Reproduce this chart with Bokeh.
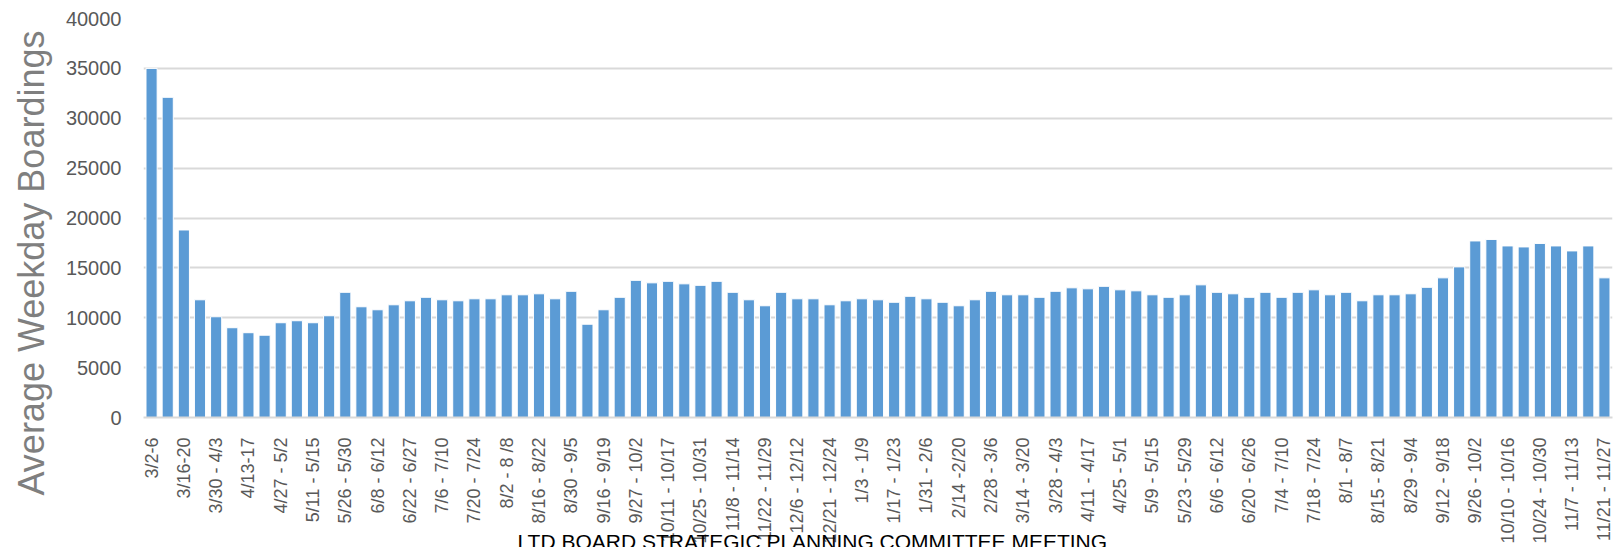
import math
from bokeh.plotting import figure
from bokeh.models import Range1d, FixedTicker, Title, ColumnDataSource
from bokeh.embed import file_html
from bokeh.resources import INLINE

# Average weekday boardings, one value per week (91 weeks)
boardings = [
    35000, 32100, 18800, 11800, 10100, 9000, 8500, 8250, 9500, 9700,
    9500, 10200, 12550, 11100, 10800, 11300, 11700, 12050, 11800, 11700,
    11900, 11900, 12300, 12300, 12400, 11900, 12650, 9350, 10800, 12050,
    13750, 13500, 13650, 13400, 13250, 13650, 12550, 11800, 11200, 12550,
    11900, 11900, 11300, 11700, 11900, 11800, 11550, 12150, 11900, 11550,
    11200, 11800, 12650, 12300, 12300, 12050, 12650, 13000, 12900, 13150,
    12800, 12700, 12300, 12050, 12300, 13300, 12550, 12400, 12050, 12550,
    12050, 12550, 12800, 12300, 12550, 11700, 12300, 12300, 12400, 13050,
    14000, 15100, 17700, 17850, 17200, 17100, 17450, 17200, 16700, 17200,
    14000,
]

# Category labels shown on the axis (every other week)
tick_labels = [
    "3/2-6", "3/16-20", "3/30 - 4/3", "4/13-17", "4/27 - 5/2", "5/11 - 5/15",
    "5/26 - 5/30", "6/8 - 6/12", "6/22 - 6/27", "7/6 - 7/10", "7/20 - 7/24",
    "8/2 - 8 /8", "8/16 - 8/22", "8/30 - 9/5", "9/16 - 9/19", "9/27 - 10/2",
    "10/11 - 10/17", "10/25 - 10/31", "11/8 - 11/14", "11/22 - 11/29",
    "12/6 - 12/12", "12/21 - 12/24", "1/3 - 1/9", "1/17 - 1/23", "1/31 - 2/6",
    "2/14 -2/20", "2/28 - 3/6", "3/14 - 3/20", "3/28 - 4/3", "4/11 - 4/17",
    "4/25 - 5/1", "5/9 - 5/15", "5/23 - 5/29", "6/6 - 6/12", "6/20 - 6/26",
    "7/4 - 7/10", "7/18 - 7/24", "8/1 - 8/7", "8/15 - 8/21", "8/29 - 9/4",
    "9/12 - 9/18", "9/26 - 10/2", "10/10 - 10/16", "10/24 - 10/30",
    "11/7 - 11/13", "11/21 - 11/27",
]

y_ticks = [0, 5000, 10000, 15000, 20000, 25000, 30000, 35000, 40000]
y_title = "Average Weekday Boardings"
footer = "LTD BOARD STRATEGIC PLANNING COMMITTEE MEETING"

weeks = list(range(len(boardings)))
label_positions = weeks[::2]

src = ColumnDataSource(dict(week=weeks, boardings=boardings))

FONT = "Liberation Sans"

p = figure(
    width=1613, height=547,
    output_backend="svg", toolbar_location=None,
    x_range=Range1d(-0.5, len(boardings) - 0.5),
    y_range=Range1d(0, 40000),
    min_border_left=143, min_border_right=1,
    min_border_top=18, min_border_bottom=130,
)
p.outline_line_color = None
p.background_fill_color = "white"
p.border_fill_color = "white"

p.vbar(x="week", top="boardings", bottom=0, width=0.69, source=src,
       fill_color="#5B9BD5", line_color="white", line_width=1)

# x axis
p.xaxis.ticker = FixedTicker(ticks=label_positions)
p.xaxis.major_label_overrides = {pos: lab for pos, lab in zip(label_positions, tick_labels)}
p.xaxis.major_label_orientation = math.pi / 2
p.xaxis.major_label_text_font = FONT
p.xaxis.major_label_text_font_size = "18px"
p.xaxis.major_label_text_color = "#595959"
p.xaxis.major_label_standoff = 14
p.xaxis.major_tick_line_color = None
p.xaxis.minor_tick_line_color = None
p.xaxis.axis_line_color = "#D9D9D9"
p.xaxis.axis_line_width = 2

# y axis
p.yaxis.ticker = FixedTicker(ticks=y_ticks)
p.yaxis.major_label_text_font = FONT
p.yaxis.major_label_text_font_size = "20px"
p.yaxis.major_label_text_color = "#595959"
p.yaxis.major_label_standoff = 16
p.yaxis.major_tick_line_color = None
p.yaxis.minor_tick_line_color = None
p.yaxis.axis_line_color = None
p.yaxis.formatter.use_scientific = False

p.xgrid.grid_line_color = None
p.ygrid.grid_line_color = "#D9D9D9"
p.ygrid.grid_line_width = 2

# vertical axis title, as a side title
p.add_layout(Title(
    text=y_title, align="left", offset=-78, vertical_align="top", standoff=18,
    text_font=FONT, text_font_size="36px", text_font_style="normal",
    text_color="#7F7F7F",
), "left")

# slide footer under the chart
p.add_layout(Title(
    text=footer, align="left", offset=374, vertical_align="top", standoff=-34,
    text_font=FONT, text_font_size="21px", text_font_style="normal",
    text_color="#000000",
), "below")

open("out.html", "w").write(file_html(p, INLINE))
